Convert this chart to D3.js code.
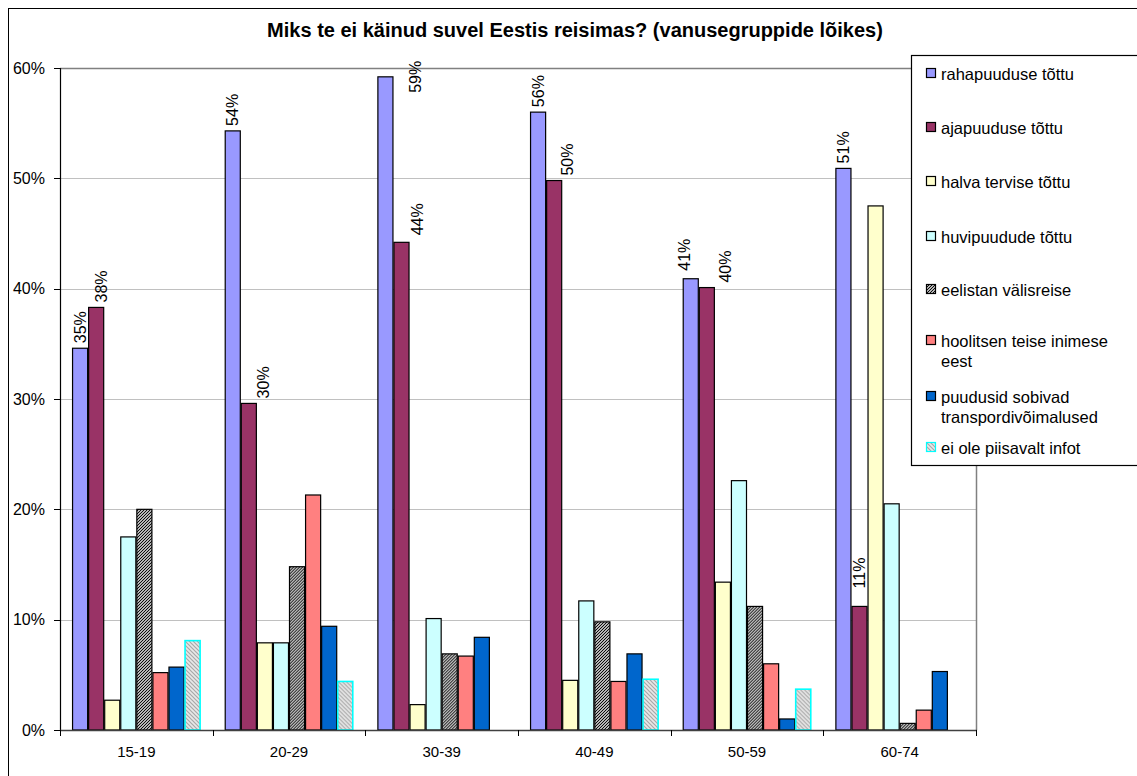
<!DOCTYPE html>
<html lang="et">
<head>
<meta charset="UTF-8">
<script src="https://d3js.org/d3.v7.min.js"></script>
<style>
    body { margin: 0; background: #fff; }
    svg text { font-family: "Liberation Sans", Arial, sans-serif; fill: #000; }
</style>
<title>Miks te ei käinud suvel Eestis reisimas?</title>
</head>
<body>
<svg id="chart" width="1137" height="776"></svg>
<script>
    // vanusegrupid
    var groups = ["15-19", "20-29", "30-39", "40-49", "50-59", "60-74"];
    // põhjused (legendi järjekorras)
    var reasons = ["rahapuuduse tõttu", "ajapuuduse tõttu", "halva tervise tõttu", "huvipuudude tõttu",
                   "eelistan välisreise", "hoolitsen teise inimese eest", "puudusid sobivad transpordivõimalused",
                   "ei ole piisavalt infot"];
    // väärtused rühmade kaupa, iga rida = üks põhjus
    var raha       = [0.346, 0.543, 0.592, 0.560, 0.409, 0.509];
    var aja        = [0.383, 0.296, 0.442, 0.498, 0.401, 0.112];
    var tervis     = [0.027, 0.079, 0.023, 0.045, 0.134, 0.475];
    var huvi       = [0.175, 0.079, 0.101, 0.117, 0.226, 0.205];
    var valisreis  = [0.200, 0.148, 0.069, 0.098, 0.112, 0.006];
    var hoolitsen  = [0.052, 0.213, 0.067, 0.044, 0.060, 0.018];
    var transport  = [0.057, 0.094, 0.084, 0.069, 0.010, 0.053];
    var info       = [0.081, 0.044, 0, 0.046, 0.037, 0];
    var series = [raha, aja, tervis, huvi, valisreis, hoolitsen, transport, info];
    var yTicks = [0, 0.1, 0.2, 0.3, 0.4, 0.5, 0.6];
    // ainult kahel esimesel seerial on andmesildid
    var labelled = [0, 1];
    // käsitsi nihutatud sildid (tulba laiustes, px)
    var labelNudge = {
        "0|1": [0.35, 0], "1|1": [0.9, 0], "2|0": [1.85, 21], "2|1": [1.0, -2],
        "3|1": [0.85, 0], "4|0": [-0.4, -3], "4|1": [1.15, 0], "5|1": [0, -13]
    };

    var fills = ["#9999ff", "#993366", "#ffffcc", "#ccffff", "url(#hatchBlack)", "#ff8080", "#0066cc", "url(#hatchGray)"];
    var strokes = ["#000", "#000", "#000", "#000", "#000", "#000", "#000", "#00ffff"];

    var svg = d3.select("#chart");
    var defs = svg.append("defs");

    var p1 = defs.append("pattern").attr("id", "hatchBlack").attr("patternUnits", "userSpaceOnUse")
        .attr("width", 3).attr("height", 3);
    p1.append("rect").attr("width", 3).attr("height", 3).attr("fill", "#fff");
    p1.append("path").attr("d", "M-1,1 l2,-2 M0,3 l3,-3 M2,4 l2,-2").attr("stroke", "#000").attr("stroke-width", 1.1);

    var p2 = defs.append("pattern").attr("id", "hatchGray").attr("patternUnits", "userSpaceOnUse")
        .attr("width", 4).attr("height", 4);
    p2.append("rect").attr("width", 4).attr("height", 4).attr("fill", "#e8e8e8");
    p2.append("path").attr("d", "M-1,3 l2,2 M0,0 l4,4 M3,-1 l2,2").attr("stroke", "#a8a8a8").attr("stroke-width", 1.2);

    // välimine raam
    svg.append("rect").attr("x", 8.5).attr("y", 8.5).attr("width", 1200).attr("height", 900)
        .attr("fill", "none").attr("stroke", "#000");

    svg.append("text").attr("x", 575).attr("y", 37).attr("text-anchor", "middle")
        .style("font-size", "20px").style("font-weight", "bold")
        .text("Miks te ei käinud suvel Eestis reisimas? (vanusegruppide lõikes)");

    var plotL = 60, plotR = 976, plotT = 68, plotB = 730;

    var x0 = d3.scaleBand().domain(groups).range([plotL, plotR]);
    var unit = x0.bandwidth() / (reasons.length + 1.5);
    var x1 = d3.scaleBand().domain(d3.range(reasons.length))
        .range([unit * 0.75, x0.bandwidth() - unit * 0.75]);
    var y = d3.scaleLinear().domain([0, 0.6]).range([plotB, plotT]);

    // ruudustik
    svg.append("g").selectAll("line").data(yTicks.slice(1, -1)).enter().append("line")
        .attr("x1", plotL).attr("x2", plotR)
        .attr("y1", function (d) { return Math.round(y(d)) + 0.5; })
        .attr("y2", function (d) { return Math.round(y(d)) + 0.5; })
        .attr("stroke", "#c0c0c0");
    // joonise ala raam ülal ja paremal
    svg.append("path").attr("d", "M" + plotL + "," + (plotT + 0.5) + "H" + (plotR + 0.5) + "V" + plotB)
        .attr("fill", "none").attr("stroke", "#808080").attr("stroke-width", 1.5);

    // tulbad
    var gGroups = svg.append("g").selectAll("g").data(groups).enter().append("g")
        .attr("transform", function (d) { return "translate(" + x0(d) + ",0)"; });

    gGroups.selectAll("rect")
        .data(function (g, gi) {
            return series.map(function (s, si) { return {g: gi, s: si, v: s[gi]}; })
                .filter(function (d) { return d.v > 0; });
        })
        .enter().append("rect")
        .attr("x", function (d) { return x1(d.s) + 0.5; })
        .attr("y", function (d) { return y(d.v); })
        .attr("width", x1.bandwidth() - 1)
        .attr("height", function (d) { return y(0) - y(d.v); })
        .attr("fill", function (d) { return fills[d.s]; })
        .attr("stroke", function (d) { return strokes[d.s]; })
        .attr("stroke-width", function (d) { return d.s === 7 ? 1.6 : 1.2; });

    // andmesildid
    var fmt = d3.format(".0%");
    gGroups.selectAll("text.lbl")
        .data(function (g, gi) {
            return labelled.map(function (si) { return {g: gi, s: si, v: series[si][gi]}; });
        })
        .enter().append("text").attr("class", "lbl")
        .attr("transform", function (d) {
            var n = labelNudge[d.g + "|" + d.s] || [0, 0];
            var cx = x1(d.s) + x1.bandwidth() / 2 + n[0] * x1.bandwidth();
            var cy = y(d.v) - 5 + n[1];
            return "translate(" + cx + "," + cy + ") rotate(-90)";
        })
        .attr("dy", "0.35em")
        .style("font-size", "16px")
        .text(function (d) { return fmt(d.v); });

    // y-telg
    var yAxis = svg.append("g");
    yAxis.append("line").attr("x1", plotL + 0.5).attr("x2", plotL + 0.5).attr("y1", plotT).attr("y2", plotB)
        .attr("stroke", "#000").attr("stroke-width", 1.2);
    yAxis.selectAll("line.tick").data(yTicks).enter().append("line").attr("class", "tick")
        .attr("x1", plotL - 6).attr("x2", plotL)
        .attr("y1", function (d) { return Math.round(y(d)) + 0.5; })
        .attr("y2", function (d) { return Math.round(y(d)) + 0.5; })
        .attr("stroke", "#000");
    yAxis.selectAll("text").data(yTicks).enter().append("text")
        .attr("x", 45).attr("y", function (d) { return y(d); }).attr("dy", "0.35em")
        .attr("text-anchor", "end").style("font-size", "16px")
        .text(function (d) { return fmt(d); });

    // x-telg
    var xAxis = svg.append("g");
    xAxis.append("line").attr("x1", plotL).attr("x2", plotR + 1).attr("y1", plotB + 0.5).attr("y2", plotB + 0.5)
        .attr("stroke", "#404040").attr("stroke-width", 1.5);
    var bounds = groups.map(function (g) { return x0(g); }).concat([plotR]);
    xAxis.selectAll("line.tick").data(bounds).enter().append("line").attr("class", "tick")
        .attr("x1", function (d) { return Math.round(d) + 0.5; })
        .attr("x2", function (d) { return Math.round(d) + 0.5; })
        .attr("y1", plotB).attr("y2", plotB + 6)
        .attr("stroke", "#000");
    xAxis.selectAll("text").data(groups).enter().append("text")
        .attr("x", function (d) { return x0(d) + x0.bandwidth() / 2; })
        .attr("y", 757).attr("text-anchor", "middle").style("font-size", "15px")
        .text(function (d) { return d; });

    // legend
    var legendLines = [["rahapuuduse tõttu"], ["ajapuuduse tõttu"], ["halva tervise tõttu"], ["huvipuudude tõttu"],
        ["eelistan välisreise"], ["hoolitsen teise inimese", "eest"], ["puudusid sobivad", "transpordivõimalused"],
        ["ei ole piisavalt infot"]];
    var legendY = [74, 128, 182, 237, 290, 341, 397, 448];
    svg.append("rect").attr("x", 911.5).attr("y", 55.5).attr("width", 300).attr("height", 410)
        .attr("fill", "#fff").attr("stroke", "#000").attr("stroke-width", 1.2);
    var items = svg.append("g").selectAll("g").data(reasons).enter().append("g")
        .attr("transform", function (d, i) { return "translate(0," + legendY[i] + ")"; });
    items.append("rect").attr("x", 926.5).attr("y", -5.5).attr("width", 9).attr("height", 9)
        .attr("fill", function (d, i) { return fills[i]; })
        .attr("stroke", function (d, i) { return strokes[i]; })
        .attr("stroke-width", 1.2);
    items.append("text").attr("x", 941).attr("y", 0).style("font-size", "16.5px")
        .each(function (d, i) {
            var t = d3.select(this);
            legendLines[i].forEach(function (line, li) {
                t.append("tspan").attr("x", 941).attr("dy", li === 0 ? "0.35em" : "1.25em").text(line);
            });
        });
</script>
</body>
</html>
